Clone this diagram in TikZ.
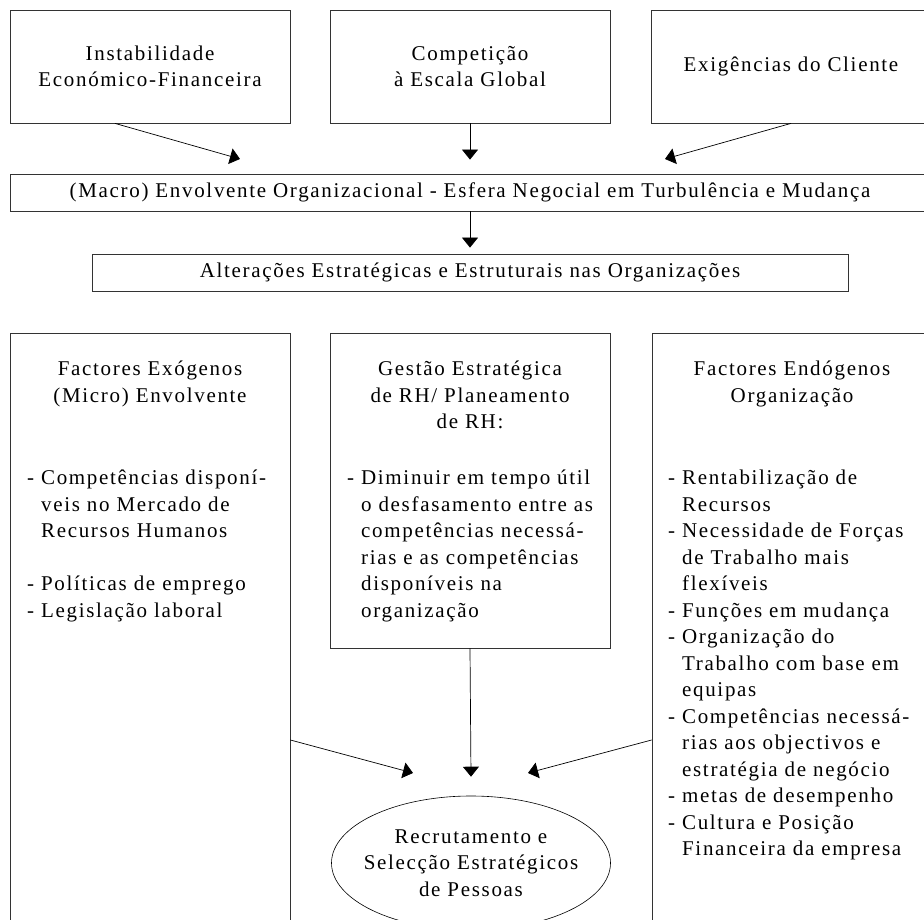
\documentclass[tikz,border=0pt]{standalone}
\usepackage{fontspec}
\setmainfont{Liberation Serif}[LetterSpace=8]
\usetikzlibrary{arrows.meta}
\usetikzlibrary{shapes.geometric}

\begin{document}
\begin{tikzpicture}[x=1pt,y=-1pt,>={Triangle[width=16pt,length=10pt]},
	every node/.style={font=\fontsize{21}{26.5}\selectfont},
	box/.style={draw=black!80,line width=0.8pt,inner sep=0pt},
	conn/.style={->,line width=0.7pt},
	head/.style={align=center,anchor=north,inner sep=0pt},
	list/.style={align=left,anchor=north west,inner sep=0pt}]
	\useasboundingbox (0,0) rectangle (924,920);
	\clip (0,0) rectangle (924,920);
	
	% top row
	\node[box,minimum width=280,minimum height=113,align=center] (instab) at (150,66.5) {Instabilidade\\Económico-Financeira};
	\node[box,minimum width=280,minimum height=113,align=center] (compet) at (470,66.5) {Competição\\à Escala Global};
	\node[box,minimum width=280,minimum height=113,align=center] (client) at (791,66.5) {Exigências do Cliente};
	
	\node[box,minimum width=920,minimum height=37] (macro) at (470,192.5) {(Macro) Envolvente Organizacional - Esfera Negocial em Turbulência e Mudança};
	\node[box,minimum width=756,minimum height=37] (alter) at (470,272.5) {Alterações Estratégicas e Estruturais nas Organizações};
	
	\coordinate (t1) at (240,159);
	\coordinate (t3) at (665,159);
	\draw[conn] ([xshift=-35pt]instab.south) -- (t1);
	\draw[conn] (compet.south) -- ([yshift=14pt]macro.north);
	\draw[conn] (client.south) -- (t3);
	\draw[conn] (macro.south) -- ([yshift=6pt]alter.north);
	
	% bottom row
	\node[box,minimum width=280,minimum height=667] (exo) at (150,666.5) {};
	\node[box,minimum width=280,minimum height=315] (gestao) at (470,490.5) {};
	\node[box,minimum width=280,minimum height=667] (endo) at (792,666.5) {};
	
	\node[head] (exoh) at (150,361) {Factores Exógenos\\(Micro) Envolvente};
	\node[head] (gesth) at (470,361) {Gestão Estratégica\\de RH/ Planeamento\\de RH:};
	\node[head] (endoh) at (792,361) {Factores Endógenos\\Organização};
	
	\node[list] (exol) at (27,470) {- Competências disponí-\\\phantom{- }veis no Mercado de\\\phantom{- }Recursos Humanos\\[26.5pt]- Políticas de emprego\\- Legislação laboral};
	\node[list] (gestl) at (347,470) {- Diminuir em tempo útil\\\phantom{- }o desfasamento entre as\\\phantom{- }competências necessá-\\\phantom{- }rias e as competências\\\phantom{- }disponíveis na\\\phantom{- }organização};
	\node[list] (endol) at (668,470) {- Rentabilização de\\\phantom{- }Recursos\\- Necessidade de Forças\\\phantom{- }de Trabalho mais\\\phantom{- }flexíveis\\- Funções em mudança\\- Organização do\\\phantom{- }Trabalho com base em\\\phantom{- }equipas\\- Competências necessá-\\\phantom{- }rias aos objectivos e\\\phantom{- }estratégia de negócio\\- metas de desempenho\\- Cultura e Posição\\\phantom{- }Financeira da empresa};
	
	\node[draw,ellipse,line width=0.6pt,minimum width=279,minimum height=134,inner xsep=-14pt,inner ysep=0pt,align=center] (recr) at (471,863) {Recrutamento e\\Selecção Estratégicos\\de Pessoas};
	
	\coordinate (t4) at (413,773);
	\coordinate (t6) at (528,773);
	\draw[conn] ([yshift=-73.5pt]exo.east) -- (t4);
	\draw[conn] (gestao.south) -- ([yshift=19pt]recr.north);
	\draw[conn] ([yshift=-73.5pt]endo.west) -- (t6);
\end{tikzpicture}
\end{document}
